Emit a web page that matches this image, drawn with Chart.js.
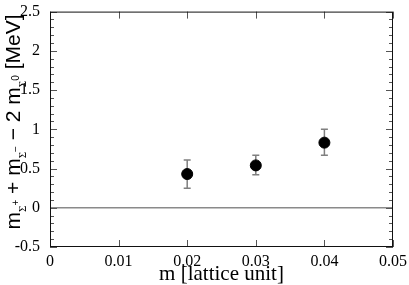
<!DOCTYPE html>
<html>
<head>
<meta charset="utf-8">
<script src="https://cdn.jsdelivr.net/npm/chart.js@4.4.1/dist/chart.umd.min.js"></script>
<style>
  html, body { margin: 0; padding: 0; background: #fff; }
  #wrap { width: 409px; height: 285px; }
</style>
</head>
<body>
<div id="wrap"><canvas id="chart" width="409" height="285"></canvas></div>
<script>
// data
const massValues = [0.02, 0.03, 0.04];
const splitValues = [0.43, 0.54, 0.83];
const errLow = [0.25, 0.42, 0.67];
const errHigh = [0.61, 0.67, 1.0];
const zeroLineX = [0, 0.05];
const zeroLineY = [0, 0];
const xTicks = [0, 0.01, 0.02, 0.03, 0.04, 0.05];
const yTicks = [-0.5, 0, 0.5, 1, 1.5, 2, 2.5];

const serif = "'Liberation Serif', 'DejaVu Serif', serif";
const sans = "'Liberation Sans', Arial, sans-serif";

// error bars, inward ticks, y axis title
const extrasPlugin = {
  id: "extras",
  beforeDatasetsDraw(chart) {
    const ctx = chart.ctx;
    const xs = chart.scales.x, ys = chart.scales.y;
    ctx.save();
    ctx.strokeStyle = "#7f7f7f";
    ctx.lineWidth = 1.5;
    massValues.forEach((m, i) => {
      const px = xs.getPixelForValue(m);
      const top = ys.getPixelForValue(errHigh[i]);
      const bot = ys.getPixelForValue(errLow[i]);
      ctx.beginPath();
      ctx.moveTo(px, top); ctx.lineTo(px, bot);
      ctx.moveTo(px - 3.5, top); ctx.lineTo(px + 3.5, top);
      ctx.moveTo(px - 3.5, bot); ctx.lineTo(px + 3.5, bot);
      ctx.stroke();
    });
    ctx.restore();
  },
  afterDraw(chart) {
    const ctx = chart.ctx;
    const a = chart.chartArea;
    const xs = chart.scales.x, ys = chart.scales.y;
    ctx.save();
    ctx.strokeStyle = "#555";
    ctx.lineWidth = 1;
    ctx.beginPath();
    xTicks.forEach(v => {
      const px = Math.round(xs.getPixelForValue(v)) + 0.5;
      ctx.moveTo(px, a.bottom); ctx.lineTo(px, a.bottom - 7);
      ctx.moveTo(px, a.top); ctx.lineTo(px, a.top + 7);
    });
    for (let k = -5; k <= 25; k++) {
      const v = k / 10;
      const py = Math.round(ys.getPixelForValue(v)) + 0.5;
      const len = k % 5 === 0 ? 7 : 4;
      ctx.moveTo(a.left, py); ctx.lineTo(a.left + len, py);
      ctx.moveTo(a.right, py); ctx.lineTo(a.right - len, py);
    }
    ctx.stroke();
    // frame
    ctx.strokeStyle = "#111";
    ctx.strokeRect(a.left + 0.5, a.top + 0.5, a.right - a.left - 1, a.bottom - a.top - 1);

    // y title: m_{Σ+} + m_{Σ−} − 2 m_{Σ0} [MeV]
    const parts = [
      { t: "m", f: 21, dy: 0, ff: sans },
      { t: "\u03A3", f: 11, dy: 6, ff: serif },
      { t: "+", f: 10, dy: -1, ff: sans },
      { t: " + m", f: 21, dy: 0, ff: sans },
      { t: "\u03A3", f: 11, dy: 6, ff: serif },
      { t: "\u2212", f: 10, dy: -1, ff: sans },
      { t: " \u2212 2 m", f: 21, dy: 0, ff: sans },
      { t: "\u03A3", f: 11, dy: 6, ff: serif },
      { t: "0", f: 10, dy: -1, ff: sans },
      { t: " [MeV]", f: 21, dy: 0, ff: sans }
    ];
    let total = 0;
    parts.forEach(p => {
      ctx.font = p.f + "px " + p.ff;
      p.w = ctx.measureText(p.t).width;
      total += p.w;
    });
    ctx.translate(20, 122);
    ctx.rotate(-Math.PI / 2);
    ctx.fillStyle = "#000";
    ctx.textBaseline = "alphabetic";
    ctx.textAlign = "left";
    let x = -total / 2;
    parts.forEach(p => {
      ctx.font = p.f + "px " + p.ff;
      ctx.fillText(p.t, x, p.dy);
      x += p.w;
    });
    ctx.restore();
  }
};

new Chart(document.getElementById("chart"), {
  type: "scatter",
  data: {
    datasets: [
      {
        label: "zero",
        data: zeroLineX.map((x, i) => ({ x: x, y: zeroLineY[i] })),
        showLine: true,
        borderColor: "#8a8a8a",
        borderWidth: 1.5,
        pointRadius: 0,
        order: 2
      },
      {
        label: "split",
        data: massValues.map((x, i) => ({ x: x, y: splitValues[i] })),
        pointRadius: 5.5,
        pointBackgroundColor: "#000",
        pointBorderColor: "#000",
        order: 1
      }
    ]
  },
  options: {
    responsive: false,
    animation: false,
    devicePixelRatio: 1,
    layout: { padding: { top: 7, right: 16, left: 0, bottom: 0 } },
    plugins: { legend: { display: false }, tooltip: { enabled: false } },
    scales: {
      x: {
        type: "linear",
        min: 0, max: 0.05,
        afterBuildTicks: s => { s.ticks = xTicks.map(v => ({ value: v })); },
        afterFit: s => { s.height = 38; },
        grid: { display: false },
        border: { display: false },
        ticks: {
          color: "#000",
          padding: -3,
          maxRotation: 0,
          font: { family: serif, size: 16 },
          callback: v => v === 0 ? "0" : v.toFixed(2)
        },
        title: {
          display: true,
          text: "m [lattice unit]",
          color: "#000",
          padding: { top: 0, bottom: -2 },
          font: { family: serif, size: 21 }
        }
      },
      y: {
        type: "linear",
        min: -0.5, max: 2.5,
        afterBuildTicks: s => { s.ticks = yTicks.map(v => ({ value: v })); },
        afterFit: s => { s.width = 50; },
        grid: { display: false },
        border: { display: false },
        ticks: {
          color: "#000",
          padding: 2,
          font: { family: serif, size: 16 },
          callback: v => String(v)
        }
      }
    }
  },
  plugins: [extrasPlugin]
});
</script>
</body>
</html>
